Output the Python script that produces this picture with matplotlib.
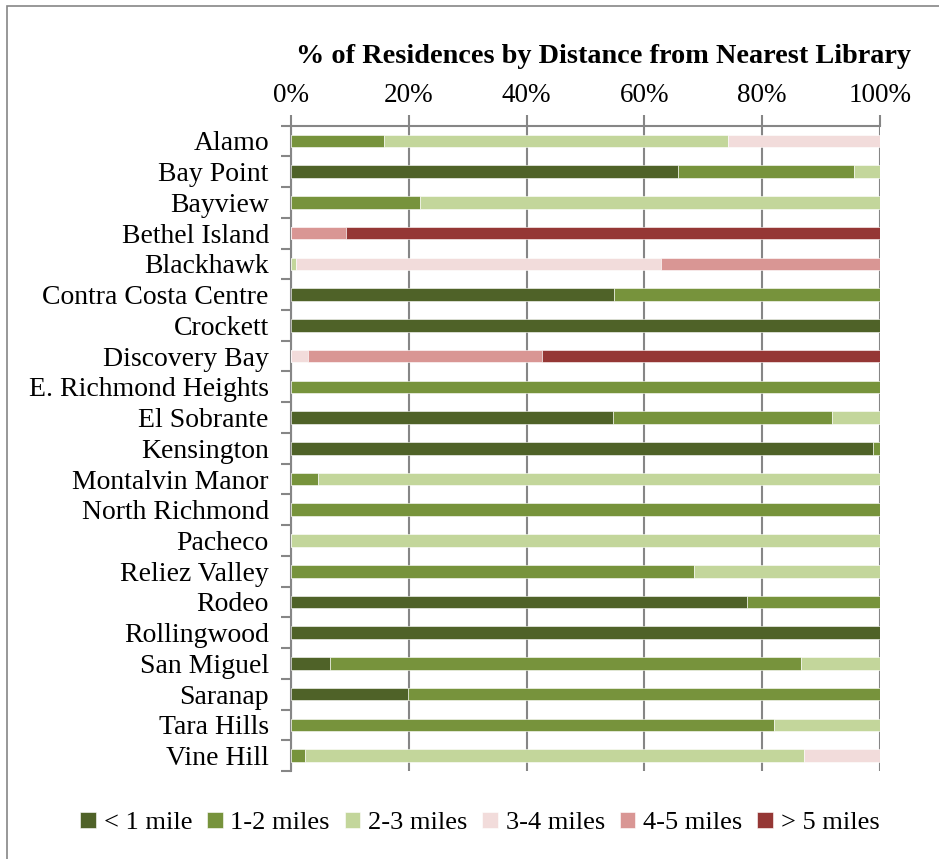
#!/usr/bin/env python3
# Horizontal stacked bars: share of residences by distance to nearest library
import numpy as np
import matplotlib.pyplot as plt
from matplotlib.patches import Rectangle

places = ['Alamo', 'Bay Point', 'Bayview', 'Bethel Island', 'Blackhawk',
          'Contra Costa Centre', 'Crockett', 'Discovery Bay',
          'E. Richmond Heights', 'El Sobrante', 'Kensington',
          'Montalvin Manor', 'North Richmond', 'Pacheco', 'Reliez Valley',
          'Rodeo', 'Rollingwood', 'San Miguel', 'Saranap', 'Tara Hills',
          'Vine Hill']

bands = ['< 1 mile', '1-2 miles', '2-3 miles', '3-4 miles', '4-5 miles',
         '> 5 miles']
colors = ['#4F6228', '#77933C', '#C3D69B', '#F2DCDB', '#D99694', '#953735']

# percent of residences in each distance band, one list per band
under_1 = [0, 65.7, 0, 0, 0, 54.9, 100, 0, 0, 54.7, 98.9, 0, 0, 0, 0,
           77.4, 100, 6.6, 19.9, 0, 0]
one_two = [15.8, 29.9, 21.9, 0, 0, 45.1, 0, 0, 100, 37.1, 1.1, 4.5, 100, 0,
           68.5, 22.6, 0, 80.0, 80.1, 82.0, 2.4]
two_three = [58.4, 4.4, 78.1, 0, 0.8, 0, 0, 0, 0, 8.2, 0, 95.5, 0, 100,
             31.5, 0, 0, 13.4, 0, 18.0, 84.7]
three_four = [25.8, 0, 0, 0, 62.0, 0, 0, 2.8, 0, 0, 0, 0, 0, 0, 0, 0, 0, 0,
              0, 0, 12.9]
four_five = [0, 0, 0, 9.3, 37.2, 0, 0, 39.8, 0, 0, 0, 0, 0, 0, 0, 0, 0, 0,
             0, 0, 0]
over_5 = [0, 0, 0, 90.7, 0, 0, 0, 57.4, 0, 0, 0, 0, 0, 0, 0, 0, 0, 0, 0, 0,
          0]

series = [under_1, one_two, two_three, three_four, four_five, over_5]

plt.rcParams['font.family'] = ['Liberation Serif', 'DejaVu Serif']
grey = '#868686'

fig = plt.figure(figsize=(9.39, 8.59), dpi=100)
ax = fig.add_axes([0.310, 0.1024, 0.627, 0.7514])

y_pos = np.arange(len(places))
left = np.zeros(len(places))
for vals, name, col in zip(series, bands, colors):
    vals = np.array(vals)
    ax.barh(y_pos, vals, left=left, height=0.41, color=col, label=name,
            edgecolor='white', linewidth=0.4, zorder=3)
    left += vals

ax.set_xlim(0, 100)
ax.set_ylim(len(places) - 0.5, -0.5)
ax.xaxis.tick_top()
ax.set_xticks(np.arange(0, 101, 20))
ax.set_xticklabels([f'{v}%' for v in range(0, 101, 20)], fontsize=19.5)
ax.tick_params(axis='x', direction='out', length=8, width=1.5, color=grey,
               pad=5)
ax.grid(axis='x', color=grey, linewidth=1.5, zorder=0)

ax.set_yticks(y_pos)
ax.set_yticklabels(places, fontsize=20)
ax.set_yticks(np.arange(-0.5, len(places)), minor=True)
ax.tick_params(axis='y', which='major', length=0, pad=16)
ax.tick_params(axis='y', which='minor', direction='out', length=7, width=1.5,
               color=grey)

for side in ['right', 'bottom']:
    ax.spines[side].set_visible(False)
for side in ['left', 'top']:
    ax.spines[side].set_color(grey)
    ax.spines[side].set_linewidth(1.5)

fig.text(0.643, 0.934, '% of Residences by Distance from Nearest Library',
         ha='center', va='center', fontsize=20.3, fontweight='bold')

fig.legend(loc='center', bbox_to_anchor=(0.511, 0.042), ncol=6,
           frameon=False, fontsize=19, handlelength=0.6, handleheight=0.6,
           handletextpad=0.3, columnspacing=0.55)

# outer chart frame
fig.patches.append(Rectangle((7 / 939, -0.05), 1.2, 1.05 - 6 / 859,
                             transform=fig.transFigure, fill=False,
                             edgecolor=grey, linewidth=1.2))

fig.savefig('out.png', dpi=100)
